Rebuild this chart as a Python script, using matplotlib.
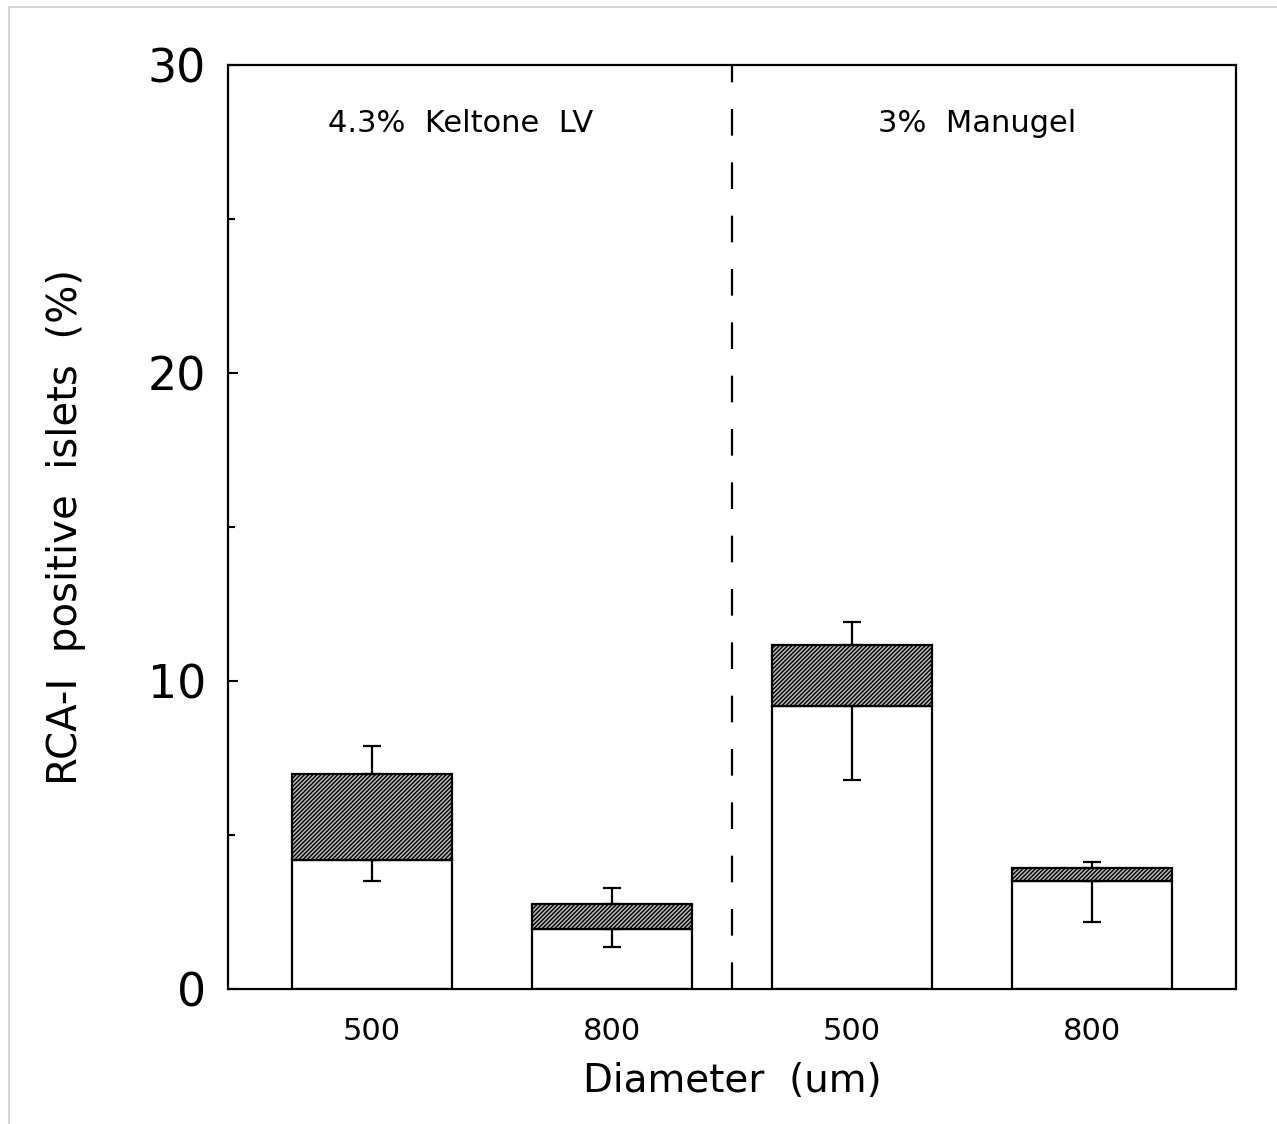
import numpy as np
import matplotlib
matplotlib.use("Agg")
import matplotlib.pyplot as plt
from matplotlib.lines import Line2D

# データ
tick_labels = ["500", "800", "500", "800"]
white_part = [4.2, 1.95, 9.2, 3.5]        # 白い部分の高さ
total = [6.97, 2.76, 11.18, 3.93]          # 斜線部分を含めた全高
upper_err = [7.88, 3.28, 11.93, 4.11]      # 上側エラーバー端
lower_err = [3.52, 1.36, 6.79, 2.16]       # 下側エラーバー端
group_labels = ["4.3%  Keltone  LV", "3%  Manugel"]

plt.rcParams["font.family"] = ["DejaVu Sans"]
plt.rcParams["hatch.linewidth"] = 1.0

fig = plt.figure(figsize=(12.77, 11.24), dpi=100)
ax = fig.add_axes([228 / 1277, 1 - 989 / 1124, 1008 / 1277, 924 / 1124])

x = np.arange(len(tick_labels))
width = 0.67
white = np.array(white_part)
tot = np.array(total)

ax.bar(x, white, width, color="white", edgecolor="black", linewidth=1.6, zorder=2)
ax.bar(x, tot - white, width, bottom=white, color="#b8b8b8", edgecolor="black",
       hatch="////////", linewidth=1.6, zorder=2)

# エラーバー（上は全高から、下は白い部分から）
up = np.array(upper_err) - tot
dn = white - np.array(lower_err)
ax.errorbar(x, tot, yerr=[np.zeros_like(up), up], fmt="none", ecolor="black",
            elinewidth=1.6, capsize=6.5, capthick=1.6, zorder=3)
ax.errorbar(x, white, yerr=[dn, np.zeros_like(dn)], fmt="none", ecolor="black",
            elinewidth=1.6, capsize=6.5, capthick=1.6, zorder=3)

# 区切りの破線
ax.axvline(1.5, color="black", linewidth=1.6, linestyle=(0, (12, 12)), zorder=1)

ax.text(0.37, 28.1, group_labels[0], ha="center", va="center", fontsize=22)
ax.text(2.52, 28.1, group_labels[1], ha="center", va="center", fontsize=22)

ax.set_xlim(-0.6, 3.6)
ax.set_ylim(0, 30)
ax.set_xticks(x)
ax.set_xticklabels(tick_labels, fontsize=22)
ax.set_yticks([0, 10, 20, 30])
ax.set_yticks([5, 15, 25], minor=True)
ax.tick_params(axis="y", which="major", direction="in", length=7, width=1.5,
               labelsize=33, pad=16)
ax.tick_params(axis="y", which="minor", direction="in", length=5, width=1.5)
ax.tick_params(axis="x", length=0, pad=20)
ax.tick_params(right=False, top=False)

for s in ax.spines.values():
    s.set_linewidth(1.6)

ax.set_xlabel("Diameter  (um)", fontsize=28, labelpad=12)
ax.set_ylabel("RCA-I  positive  islets  (%)", fontsize=29, labelpad=44)

# 画像の外枠（左と上の薄い灰色線）
fig.add_artist(Line2D([8.5 / 1277, 8.5 / 1277], [0, 1 - 6.5 / 1124],
                      transform=fig.transFigure, color="#d6d6d6", linewidth=1.5))
fig.add_artist(Line2D([8.5 / 1277, 1], [1 - 6.5 / 1124, 1 - 6.5 / 1124],
                      transform=fig.transFigure, color="#d6d6d6", linewidth=1.5))

fig.savefig("out.png", dpi=100)
